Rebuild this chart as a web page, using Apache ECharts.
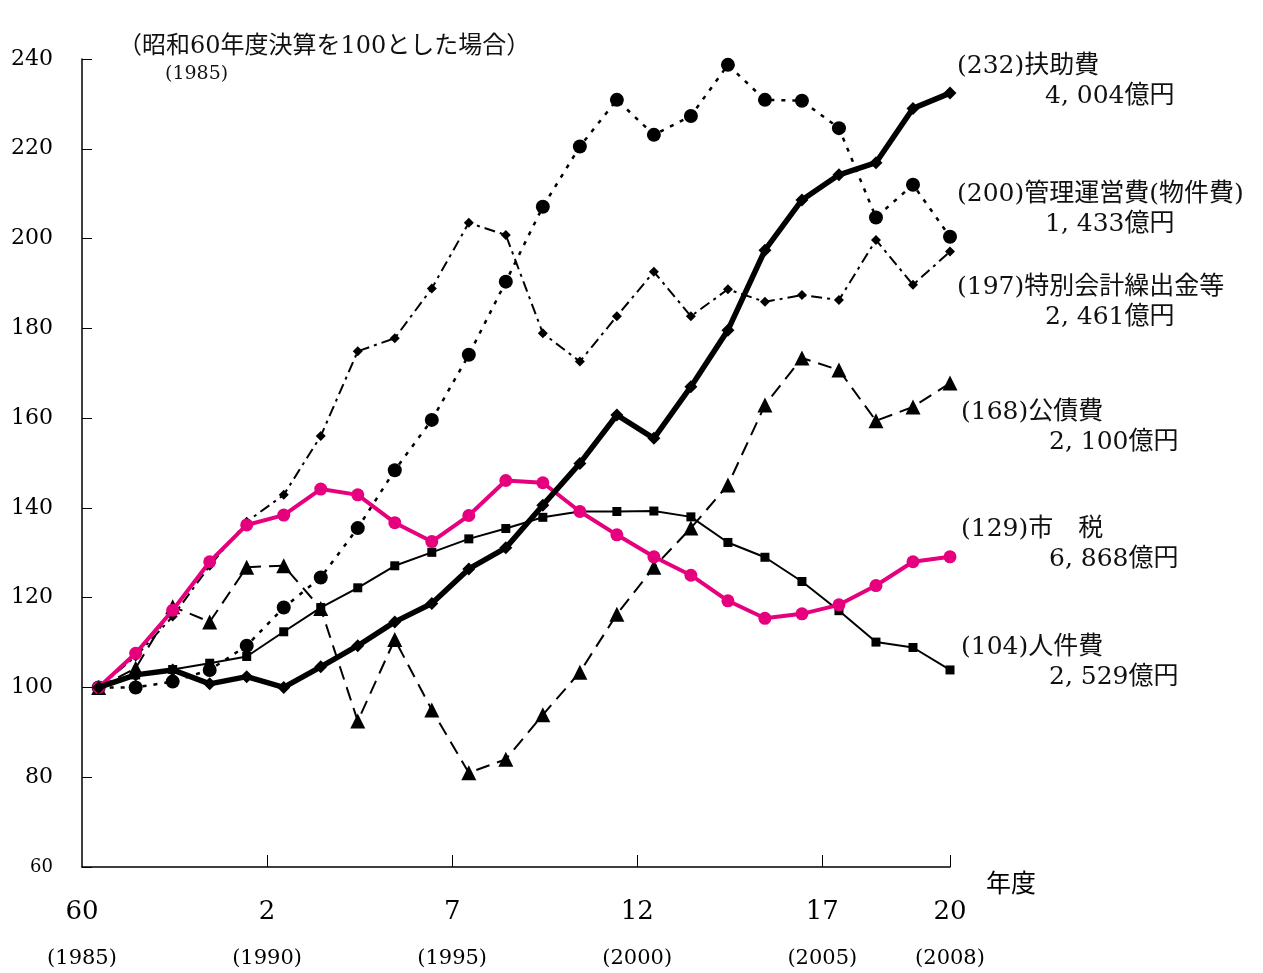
<!DOCTYPE html>
<html>
<head>
<meta charset="utf-8">
<script src="https://cdn.jsdelivr.net/npm/echarts@6/dist/echarts.min.js"></script>
<style>
  html, body { margin: 0; padding: 0; background: #fff; }
  #chart { width: 1263px; height: 973px; }
</style>
</head>
<body>
<div id="chart"></div>
<script>
// 年度 1985 (昭和60) .. 2008 (平成20), index 0..23
const years = [1985, 1986, 1987, 1988, 1989, 1990, 1991, 1992, 1993, 1994, 1995, 1996,
  1997, 1998, 1999, 2000, 2001, 2002, 2003, 2004, 2005, 2006, 2007, 2008]

const fujo = [100, 102.8, 103.9, 100.8, 102.4, 100, 104.6, 109.3, 114.6, 118.7, 126.4, 131.1,
  140.6, 149.9, 160.7, 155.5, 167, 179.6, 197.4, 208.6, 214.2, 216.9, 229, 232.4]
const kanri = [100, 100, 101.3, 103.9, 109.3, 117.8, 124.5, 135.5, 148.4, 159.6, 174.1, 190.4,
  207.1, 220.5, 230.9, 223.1, 227.3, 238.7, 230.9, 230.7, 224.6, 204.7, 212, 200.4]
const tokubetsu = [100, 106.9, 115.8, 127.1, 136.9, 142.9, 156, 174.9, 177.8, 188.9, 203.5, 200.8,
  178.9, 172.6, 182.7, 192.6, 182.7, 188.7, 185.9, 187.4, 186.3, 199.7, 189.7, 197.1]
const kosai = [100, 104.3, 118, 114.6, 126.8, 127.1, 117.6, 92.5, 110.7, 95, 81, 84,
  93.9, 103.4, 116.3, 126.8, 135.5, 145.1, 162.9, 173.4, 170.7, 159.4, 162.5, 167.8]
const shizei = [100, 107.6, 117.2, 128, 136.2, 138.4, 144.2, 142.9, 136.7, 132.5, 138.3, 146.1,
  145.6, 139.2, 134, 129.1, 125, 119.3, 115.4, 116.4, 118.4, 122.7, 128, 129.1]
const jinken = [100, 102.8, 104, 105.4, 106.9, 112.4, 117.8, 122.2, 127.1, 130.1, 133.1, 135.4,
  137.9, 139.2, 139.2, 139.3, 138, 132.3, 129, 123.6, 117.1, 110.1, 108.9, 103.9]

// x軸の目盛（和暦と西暦）
const tickPos = [-0.45, 4.55, 9.55, 14.55, 19.55, 23]
const eraLabels = ['60', '2', '7', '12', '17', '20']
const yearLabels = ['(1985)', '(1990)', '(1995)', '(2000)', '(2005)', '(2008)']

// 右側の注記
const seriesNames = ['(232)扶助費', '(200)管理運営費(物件費)', '(197)特別会計繰出金等', '(168)公債費', '(129)市　税', '(104)人件費']
const amounts = ['4, 004億円', '1, 433億円', '2, 461億円', '2, 100億円', '6, 868億円', '2, 529億円']
const noteY = [67, 195, 288, 413, 530, 648]

const FONT = "'DejaVu Serif', 'Noto Sans CJK JP', serif"
const toPairs = arr => arr.map((v, i) => [i, v])

const chart = echarts.init(document.getElementById('chart'))

const notes = []
seriesNames.forEach((n, i) => {
  const dx = i > 2 ? 4 : 0
  notes.push({
    type: 'text', left: 957 + dx, top: noteY[i] - 13,
    style: { text: n, font: '25px ' + FONT, fill: '#111' }
  })
  notes.push({
    type: 'text', left: 1045 + dx, top: noteY[i] + 17,
    style: { text: amounts[i], font: '25px ' + FONT, fill: '#111' }
  })
})

const option = {
  animation: false,
  backgroundColor: '#fff',
  grid: { left: 82, right: 313, top: 59, bottom: 106 },
  xAxis: {
    type: 'value',
    min: -0.45,
    max: 23,
    splitLine: { show: false },
    axisLine: { onZero: false, lineStyle: { color: '#000', width: 1.5 } },
    axisTick: { show: true, inside: true, length: 12, customValues: tickPos.slice(1), lineStyle: { color: '#000' } },
    axisLabel: {
      customValues: tickPos,
      margin: 22,
      formatter: v => {
        const i = tickPos.findIndex(p => Math.abs(p - v) < 1e-6)
        return '{a|' + eraLabels[i] + '}\n{b|' + yearLabels[i] + '}'
      },
      rich: {
        a: { fontSize: 26, fontFamily: FONT, color: '#000', lineHeight: 46 },
        b: { fontSize: 21, fontFamily: FONT, color: '#000', lineHeight: 48 }
      }
    },
    name: '年度',
    nameLocation: 'end',
    nameGap: 36,
    nameTextStyle: { fontSize: 25, fontFamily: FONT, color: '#000', verticalAlign: 'top', padding: [6, 0, 0, 0] }
  },
  yAxis: {
    type: 'value',
    min: 60,
    max: 240,
    interval: 20,
    splitLine: { show: false },
    axisLine: { show: true, onZero: false, lineStyle: { color: '#000', width: 1.5 } },
    axisTick: { show: true, inside: true, length: 10, lineStyle: { color: '#000' } },
    axisLabel: {
      margin: 29,
      color: '#000',
      fontSize: 22,
      fontFamily: FONT,
      formatter: v => (v === 60 ? '{s|60}' : String(v)),
      rich: { s: { fontSize: 18, fontFamily: FONT, color: '#000' } }
    }
  },
  graphic: [
    { type: 'text', left: 118, top: 35, style: { text: '（昭和60年度決算を100とした場合）', font: '24px ' + FONT, fill: '#111' } },
    { type: 'text', left: 165, top: 65, style: { text: '(1985)', font: '19px ' + FONT, fill: '#111' } },
    ...notes
  ],
  series: [
    {
      name: '人件費', type: 'line', data: toPairs(jinken),
      symbol: 'rect', symbolSize: 9, showAllSymbol: true,
      lineStyle: { color: '#000', width: 2 }, itemStyle: { color: '#000' }, z: 2
    },
    {
      name: '公債費', type: 'line', data: toPairs(kosai),
      symbol: 'triangle', symbolSize: 15, showAllSymbol: true,
      lineStyle: { color: '#000', width: 2, type: [14, 8] }, itemStyle: { color: '#000' }, z: 3
    },
    {
      name: '特別会計繰出金等', type: 'line', data: toPairs(tokubetsu),
      symbol: 'diamond', symbolSize: 10, showAllSymbol: true,
      lineStyle: { color: '#000', width: 2, type: [11, 5, 3, 5] }, itemStyle: { color: '#000' }, z: 4
    },
    {
      name: '管理運営費', type: 'line', data: toPairs(kanri),
      symbol: 'circle', symbolSize: 14, showAllSymbol: true,
      lineStyle: { color: '#000', width: 2.5, type: [4, 7] }, itemStyle: { color: '#000' }, z: 5
    },
    {
      name: '市税', type: 'line', data: toPairs(shizei),
      symbol: 'circle', symbolSize: 13, showAllSymbol: true,
      lineStyle: { color: '#e6007e', width: 4 }, itemStyle: { color: '#e6007e' }, z: 6
    },
    {
      name: '扶助費', type: 'line', data: toPairs(fujo),
      symbol: 'diamond', symbolSize: 13, showAllSymbol: true,
      lineStyle: { color: '#000', width: 5.5 }, itemStyle: { color: '#000' }, z: 7
    }
  ]
}

chart.setOption(option)
</script>
</body>
</html>
